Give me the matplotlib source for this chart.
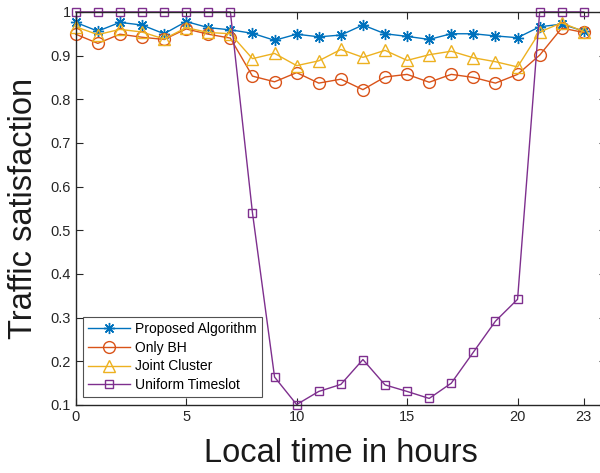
import matplotlib
matplotlib.use("Agg")
import matplotlib.pyplot as plt

plt.rcParams['font.family'] = ['Liberation Sans', 'DejaVu Sans']

hours = list(range(24))
proposed = [0.976, 0.956, 0.976, 0.970, 0.950, 0.978, 0.964, 0.959, 0.951, 0.935, 0.949, 0.943,
            0.947, 0.970, 0.950, 0.944, 0.937, 0.950, 0.950, 0.945, 0.941, 0.966, 0.972, 0.956]
only_bh = [0.949, 0.928, 0.949, 0.942, 0.937, 0.961, 0.949, 0.940, 0.853, 0.840, 0.861, 0.837,
           0.846, 0.822, 0.851, 0.857, 0.839, 0.857, 0.850, 0.837, 0.857, 0.901, 0.963, 0.953]
joint = [0.966, 0.948, 0.960, 0.954, 0.938, 0.964, 0.953, 0.950, 0.893, 0.905, 0.877, 0.888,
         0.914, 0.896, 0.912, 0.889, 0.902, 0.910, 0.895, 0.886, 0.874, 0.954, 0.975, 0.955]
uniform = [1.0, 1.0, 1.0, 1.0, 1.0, 1.0, 1.0, 1.0, 0.540, 0.164, 0.101, 0.131,
           0.147, 0.204, 0.146, 0.131, 0.115, 0.150, 0.221, 0.292, 0.342, 1.0, 1.0, 1.0]

xticks = [0, 5, 10, 15, 20, 23]
yticks = [0.1, 0.2, 0.3, 0.4, 0.5, 0.6, 0.7, 0.8, 0.9, 1.0]
ytick_labels = ['0.1', '0.2', '0.3', '0.4', '0.5', '0.6', '0.7', '0.8', '0.9', '1']

fig = plt.figure(figsize=(6.0, 4.73), dpi=100)
ax = fig.add_axes([0.1262, 0.1438, 0.8837, 0.831])

ax.plot(hours, proposed, color='#0072BD', marker=(8, 2, 0), markersize=8, linewidth=1,
        label='Proposed Algorithm', clip_on=False)
ax.plot(hours, only_bh, color='#D95319', marker='o', markersize=8.5, markerfacecolor='none',
        linewidth=1, label='Only BH', clip_on=False)
ax.plot(hours, joint, color='#EDB120', marker='^', markersize=9, markerfacecolor='none',
        linewidth=1, label='Joint Cluster', clip_on=False)
ax.plot(hours, uniform, color='#7E2F8E', marker='s', markersize=6, markerfacecolor='none',
        linewidth=1, label='Uniform Timeslot', clip_on=False)

ax.set_xlim(0, 24)
ax.set_ylim(0.1, 1.0)
ax.set_xticks(xticks)
ax.set_yticks(yticks)
ax.set_yticklabels(ytick_labels)
ax.tick_params(direction='in', top=True, right=True, length=5, labelsize=10.5,
               colors='#262626', width=0.8)
for s in ax.spines.values():
    s.set_color('#262626')
    s.set_linewidth(1)

ax.set_xlabel('Local time in hours', fontsize=23.5, color='#1a1a1a', labelpad=10)
ax.set_ylabel('Traffic satisfaction', fontsize=23.5, color='#1a1a1a', labelpad=8)

leg = ax.legend(loc='lower left', bbox_to_anchor=(0.0145, 0.02), fontsize=10,
                frameon=True, fancybox=False, edgecolor='#262626', handlelength=3,
                borderaxespad=0, labelspacing=0.35, borderpad=0.35, handletextpad=0.4)
leg.get_frame().set_linewidth(0.8)

fig.savefig('out.png', dpi=100)
